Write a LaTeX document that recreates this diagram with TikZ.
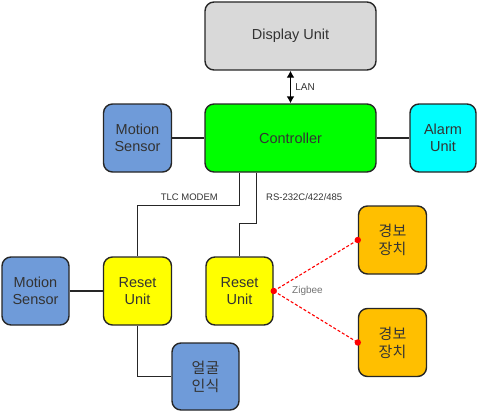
\documentclass[tikz,border=0pt]{standalone}
\usepackage{fontspec}
\setmainfont{Liberation Sans}
\newfontfamily\kor{Noto Sans CJK KR}
\usetikzlibrary{arrows.meta}
\definecolor{dispgray}{HTML}{D9D9D9}
\definecolor{ctrlgreen}{HTML}{00FF00}
\definecolor{sensblue}{HTML}{6F9BD9}
\definecolor{alarmcyan}{HTML}{00FFFF}
\definecolor{resetyellow}{HTML}{FFFF00}
\definecolor{devorange}{HTML}{FFBF00}
\definecolor{txtgray}{HTML}{333333}
\begin{document}
\begin{tikzpicture}[x=1pt, y=-1pt,
    unit/.style={draw=black!85, line width=1.4pt, rounded corners=9pt, align=center,
        text=txtgray, font=\fontsize{14.5}{17}\selectfont, inner sep=0pt},
    wide/.style={unit, minimum width=171pt, minimum height=68pt},
    small/.style={unit, minimum width=68pt, minimum height=68pt},
    hangul/.style={font=\kor\fontsize{15}{18}\selectfont},
    lbl/.style={text=txtgray, font=\fontsize{9.5}{11}\selectfont, inner sep=0pt},
    wire/.style={black!85, line width=1.5pt}]
    \useasboundingbox (0, 0) rectangle (479, 412);
    \node[wide, fill=dispgray] (disp) at (290.5, 36) {Display Unit};
    \node[wide, fill=ctrlgreen] (ctrl) at (290.5, 138) {Controller};
    \node[small, fill=sensblue] (sens1) at (137.5, 138) {Motion\\Sensor};
    \node[small, fill=alarmcyan, minimum width=66pt] (alarm) at (443, 138) {Alarm\\Unit};
    \node[small, fill=sensblue, minimum width=67pt] (sens2) at (35.5, 291) {Motion\\Sensor};
    \node[small, fill=resetyellow] (reset1) at (137.5, 291) {Reset\\Unit};
    \node[small, fill=resetyellow, minimum width=67pt] (reset2) at (239.5, 291) {Reset\\Unit};
    \node[small, hangul, fill=devorange] (dev1) at (392.5, 240) {경보\\장치};
    \node[small, hangul, fill=devorange] (dev2) at (392.5, 342.5) {경보\\장치};
    \node[small, hangul, fill=sensblue, minimum width=67pt, minimum height=67pt] (face) at (205.5, 376.5) {얼굴\\인식};
    \draw[line width=1.8pt, {Latex[length=7pt,width=8pt]}-{Latex[length=7pt,width=8pt]}] (disp) -- (ctrl)
        node[lbl, midway, right=4pt, font=\fontsize{10}{12}\selectfont] (lan) {LAN};
    \draw[wire] (sens1) -- (ctrl);
    \draw[wire] (ctrl) -- (alarm);
    \draw[wire] (sens2) -- (reset1);
    \draw[wire] (ctrl.south -| reset2) -- ++(0, 33) -| (reset1);
    \draw[wire] ([xshift=17pt]ctrl.south -| reset2) -- ++(0, 51) -| (reset2);
    \draw[wire] (reset1) |- (face);
    \node[lbl, anchor=east] (tlc) at (218, 197) {TLC MODEM};
    \node[lbl, anchor=west] (rs) at (266, 197) {RS-232C/422/485};
    \foreach \d in {dev1, dev2} {
        \draw[red, line width=1.1pt, densely dashed] (reset2.east) -- (\d.west);
        \fill[red] (\d.west) circle (3.2pt);
    };
    \fill[red] (reset2.east) circle (3.2pt);
    \node[lbl, anchor=west, text=black!55, font=\fontsize{10}{12}\selectfont] (zig) at (292, 291) {Zigbee};
\end{tikzpicture}
\end{document}
